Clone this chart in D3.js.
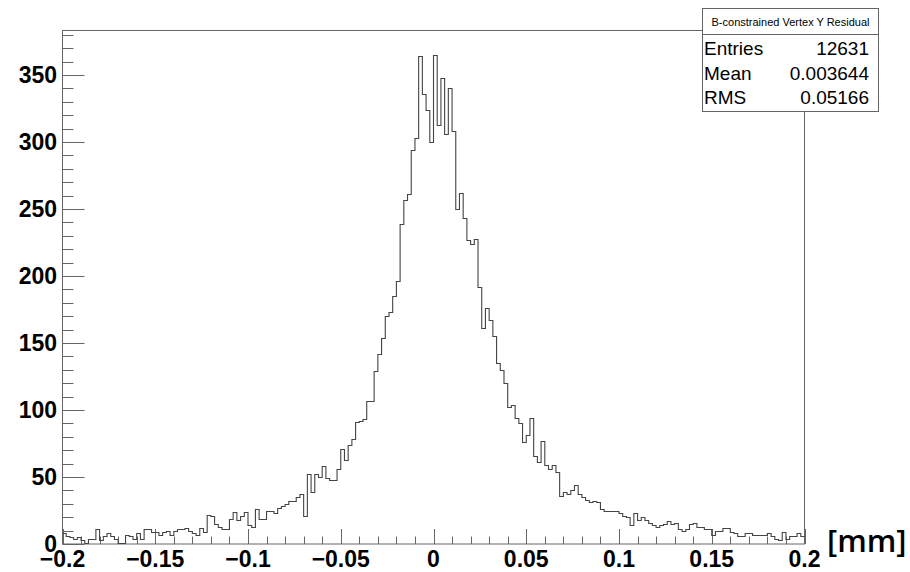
<!DOCTYPE html>
<html>
<head>
<meta charset="utf-8">
<script src="https://cdn.jsdelivr.net/npm/d3@7"></script>
<style>
  body { margin: 0; background: #fff; }
  svg { display: block; }
</style>
</head>
<body>
<svg id="chart"></svg>
<script>
// histogram: 200 bins from -0.2 to 0.2 mm
const xRange = [-0.2, 0.2];
const counts = [
  8, 6, 5, 4, 5, 3, 1, 4, 4, 11,
  3, 6, 8, 6, 4, 1, 1, 7, 6, 4,
  8, 4, 11, 11, 9, 9, 7, 9, 10, 7,
  10, 11, 11, 12, 10, 8, 7, 12, 9, 22,
  21, 15, 13, 11, 11, 19, 24, 18, 21, 24,
  14, 13, 26, 19, 19, 25, 25, 23, 27, 28,
  30, 32, 32, 35, 37, 21, 52, 39, 52, 50,
  58, 49, 48, 48, 56, 71, 63, 74, 78, 91,
  92, 93, 107, 107, 129, 142, 154, 170, 173, 185,
  196, 239, 257, 261, 294, 303, 364, 336, 324, 300,
  365, 313, 348, 306, 340, 308, 250, 262, 243, 227,
  224, 228, 192, 161, 176, 167, 155, 135, 130, 120,
  102, 104, 94, 90, 76, 81, 94, 66, 61, 77,
  59, 56, 59, 54, 36, 39, 37, 40, 44, 37,
  35, 33, 31, 32, 31, 26, 25, 25, 25, 25,
  23, 21, 20, 14, 23, 18, 20, 18, 16, 14,
  13, 14, 15, 17, 15, 16, 11, 10, 11, 15,
  16, 13, 13, 11, 11, 7, 10, 10, 12, 12,
  9, 8, 6, 6, 8, 8, 7, 7, 7, 7,
  8, 6, 4, 3, 9, 4, 6, 6, 8, 6
];
const yMajor = [0, 50, 100, 150, 200, 250, 300, 350];
const xMajor = [-0.2, -0.15, -0.1, -0.05, 0, 0.05, 0.1, 0.15, 0.2];
const xLabels = ['\u22120.2', '\u22120.15', '\u22120.1', '\u22120.05', '0', '0.05', '0.1', '0.15', '0.2'];
const statTitle = 'B-constrained Vertex Y Residual';
const statNames = ['Entries', 'Mean', 'RMS'];
const statValues = ['12631', '0.003644', '0.05166'];
const unitLabel = '[mm]';

const W = 910, H = 572;
const frame = {left: 62.5, right: 804.5, top: 30.5, bottom: 544};

const svg = d3.select('#chart').attr('width', W).attr('height', H);

const yMax = d3.max(counts) * 1.05;
const x = d3.scaleLinear().domain(xRange).range([frame.left, frame.right]);
const y = d3.scaleLinear().domain([0, yMax]).range([frame.bottom, frame.top]);

const nb = counts.length;
const bw = (xRange[1] - xRange[0]) / nb;

// frame
svg.append('rect')
  .attr('x', frame.left).attr('y', frame.top)
  .attr('width', frame.right - frame.left).attr('height', frame.bottom - frame.top)
  .attr('fill', 'none').attr('stroke', '#666').attr('stroke-width', 1);

// y ticks (inside, pointing right)
const yMinor = d3.range(0, yMax, 10);
svg.append('g').selectAll('line')
  .data(yMinor)
  .join('line')
  .attr('x1', frame.left)
  .attr('x2', d => frame.left + (d % 50 === 0 ? 22 : 11))
  .attr('y1', d => Math.round(y(d)) + 0.5)
  .attr('y2', d => Math.round(y(d)) + 0.5)
  .attr('stroke', '#666');

// x ticks (inside, pointing up)
const xMinor = d3.range(-20, 21).map(d => d / 100);
svg.append('g').selectAll('line')
  .data(xMinor)
  .join('line')
  .attr('x1', d => Math.round(x(d)) + 0.5)
  .attr('x2', d => Math.round(x(d)) + 0.5)
  .attr('y1', frame.bottom)
  .attr('y2', d => frame.bottom - (Math.round(d * 100) % 5 === 0 ? 15 : 7.5))
  .attr('stroke', '#666');

// histogram outline
const pts = counts.map((c, i) => [xRange[0] + i * bw, c]);
pts.push([xRange[1], counts[nb - 1]]);
const line = d3.line()
  .x(d => x(d[0]))
  .y(d => Math.round(y(d[1])) + 0.5)
  .curve(d3.curveStepAfter);
svg.append('path')
  .attr('d', line(pts))
  .attr('fill', 'none')
  .attr('stroke', '#444')
  .attr('stroke-width', 1.1);

// labels
svg.append('g').selectAll('text')
  .data(yMajor)
  .join('text')
  .attr('x', 57)
  .attr('y', d => y(d))
  .attr('dy', '0.36em')
  .attr('text-anchor', 'end')
  .style('font-family', 'Liberation Sans, Arial, sans-serif')
  .style('font-weight', 'bold')
  .style('font-size', '23px')
  .text(d => d);

svg.append('g').selectAll('text')
  .data(xMajor)
  .join('text')
  .attr('x', d => x(d))
  .attr('y', 567)
  .attr('text-anchor', 'middle')
  .style('font-family', 'Liberation Sans, Arial, sans-serif')
  .style('font-weight', 'bold')
  .style('font-size', '23px')
  .text((d, i) => xLabels[i]);

svg.append('text')
  .attr('x', 827)
  .attr('y', 552)
  .style('font-family', 'Open Sans, sans-serif')
  .style('font-weight', 600)
  .style('font-size', '31px')
  .text(unitLabel);

// stats box
const box = {x: 702.5, y: 8.5, w: 176, h: 103, titleH: 26};
const stats = svg.append('g');
stats.append('rect')
  .attr('x', box.x).attr('y', box.y).attr('width', box.w).attr('height', box.h)
  .attr('fill', '#fff').attr('stroke', '#666');
stats.append('line')
  .attr('x1', box.x).attr('x2', box.x + box.w)
  .attr('y1', box.y + box.titleH).attr('y2', box.y + box.titleH)
  .attr('stroke', '#666');
stats.append('text')
  .attr('x', box.x + box.w / 2)
  .attr('y', 26)
  .attr('text-anchor', 'middle')
  .style('font-family', 'Liberation Sans, Arial, sans-serif')
  .style('font-size', '11px')
  .text(statTitle);
const rowY = [55, 80, 104];
stats.selectAll('text.name')
  .data(statNames)
  .join('text')
  .attr('class', 'name')
  .attr('x', 704)
  .attr('y', (d, i) => rowY[i])
  .style('font-family', 'Liberation Sans, Arial, sans-serif')
  .style('font-size', '19px')
  .text(d => d);
stats.selectAll('text.val')
  .data(statValues)
  .join('text')
  .attr('class', 'val')
  .attr('x', 869)
  .attr('y', (d, i) => rowY[i])
  .attr('text-anchor', 'end')
  .style('font-family', 'Liberation Sans, Arial, sans-serif')
  .style('font-size', '19px')
  .text(d => d);
</script>
</body>
</html>
